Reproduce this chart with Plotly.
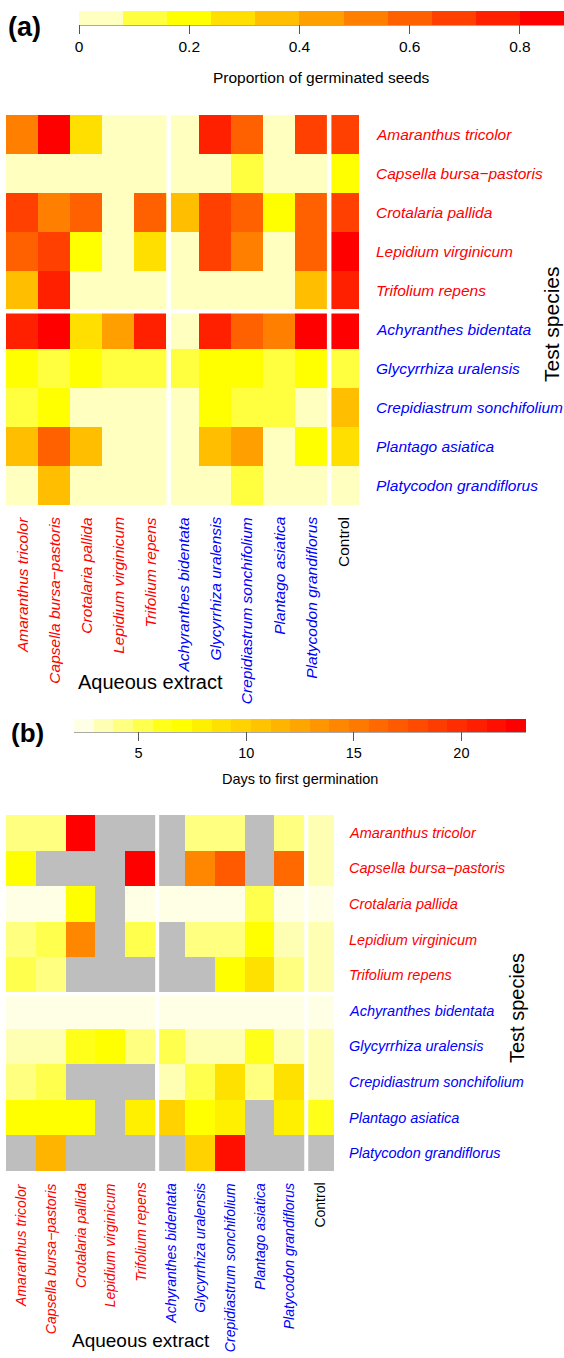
import plotly.graph_objects as go

W, H = 564, 1358

# ---------------- data ----------------
species = ["Amaranthus tricolor", "Capsella bursa\u2212pastoris", "Crotalaria pallida",
           "Lepidium virginicum", "Trifolium repens", "Achyranthes bidentata",
           "Glycyrrhiza uralensis", "Crepidiastrum sonchifolium", "Plantago asiatica",
           "Platycodon grandiflorus"]
extracts = species + ["Control"]

# (a) proportion of germinated seeds: rows = test species, cols = aqueous extract
prop = [
    [0.52, 0.84, 0.28, 0.00, 0.00, 0.00, 0.76, 0.60, 0.00, 0.68, 0.68],
    [0.00, 0.00, 0.00, 0.00, 0.00, 0.00, 0.00, 0.12, 0.00, 0.00, 0.20],
    [0.68, 0.52, 0.60, 0.00, 0.60, 0.36, 0.68, 0.60, 0.20, 0.60, 0.68],
    [0.60, 0.68, 0.20, 0.00, 0.28, 0.00, 0.68, 0.52, 0.00, 0.60, 0.84],
    [0.36, 0.76, 0.00, 0.00, 0.00, 0.00, 0.00, 0.00, 0.00, 0.36, 0.76],
    [0.76, 0.84, 0.28, 0.44, 0.76, 0.00, 0.76, 0.60, 0.52, 0.84, 0.84],
    [0.20, 0.12, 0.20, 0.12, 0.12, 0.12, 0.20, 0.20, 0.12, 0.20, 0.12],
    [0.12, 0.20, 0.00, 0.00, 0.00, 0.00, 0.20, 0.12, 0.12, 0.00, 0.36],
    [0.36, 0.60, 0.36, 0.00, 0.00, 0.00, 0.36, 0.44, 0.00, 0.20, 0.28],
    [0.00, 0.36, 0.00, 0.00, 0.00, 0.00, 0.00, 0.12, 0.00, 0.00, 0.00],
]

# (b) days to first germination (None = no germination, grey)
N = None
days = [
    [4.0, 4.0, 23.0, N, N, N, 4.0, 4.0, N, 4.0, 3.0],
    [7.0, N, N, N, 23.0, N, 14.2, 17.0, N, 16.5, 3.0],
    [2.3, 2.3, 7.0, N, 2.3, 2.3, 2.3, 2.3, 5.0, 2.3, 2.3],
    [4.0, 5.0, 14.2, N, 5.0, N, 4.0, 4.0, 7.0, 3.0, 3.0],
    [5.0, 4.0, N, N, N, N, N, 7.0, 9.0, 4.0, 3.0],
    [2.3, 2.3, 2.3, 2.3, 2.3, 2.3, 2.3, 2.3, 2.3, 2.3, 2.3],
    [3.4, 3.4, 6.0, 7.0, 4.0, 5.0, 3.0, 3.0, 6.0, 3.0, 3.0],
    [4.0, 5.0, N, N, N, 3.0, 5.0, 9.0, 4.0, 9.0, 3.0],
    [7.0, 7.0, 7.0, N, 8.0, 10.0, 7.0, 8.0, N, 8.0, 6.0],
    [N, 12.0, N, N, N, N, 10.0, 21.6, N, N, N],
]

prop_ticks = [0, 0.2, 0.4, 0.6, 0.8]
prop_ticktext = ["0", "0.2", "0.4", "0.6", "0.8"]
days_ticks = [5, 10, 15, 20]
days_ticktext = ["5", "10", "15", "20"]

# ---------------- styles ----------------
heat_a = ["#FFFFBF", "#FFFF40", "#FFFF00", "#FFDF00", "#FFBF00", "#FF9F00",
          "#FF8000", "#FF6000", "#FF4000", "#FF2000", "#FF0000"]
heat_b = ["#FFFFE6", "#FFFFB3", "#FFFF80", "#FFFF4D", "#FFFF1A", "#FFFF00",
          "#FFF000", "#FFE100", "#FFD200", "#FFC300", "#FFB400", "#FFA500",
          "#FF9600", "#FF8700", "#FF7800", "#FF6900", "#FF5A00", "#FF4B00",
          "#FF3C00", "#FF2D00", "#FF1E00", "#FF0F00", "#FF0000"]
NA_GREY = "#BEBEBE"
RED, BLUE = "#FF0000", "#0000FF"
FONT = "Liberation Sans, Arial, sans-serif"


def stepscale(colors):
    n = len(colors)
    cs = []
    for k, c in enumerate(colors):
        cs.append([k / n, c])
        cs.append([(k + 1) / n, c])
    return cs


def px(x):
    return x / W


def py(y):
    return 1 - y / H


nrow, ncol = len(species), len(extracts)
rows_idx = list(range(nrow))
cols_idx = list(range(ncol))

# panel geometry (pixels)
A = dict(x0=6, x1=359, y0=115, y1=505)
B = dict(x0=6, x1=334, y0=815, y1=1171)

fig = go.Figure()

fig.add_trace(go.Heatmap(z=prop, x=cols_idx, y=rows_idx, coloraxis="coloraxis",
                         xaxis="x", yaxis="y", xgap=0, ygap=0))
na_mask = [[1 if v is None else None for v in row] for row in days]
fig.add_trace(go.Heatmap(z=na_mask, x=cols_idx, y=rows_idx, showscale=False,
                         colorscale=[[0, NA_GREY], [1, NA_GREY]],
                         xaxis="x2", yaxis="y2", hoverinfo="skip"))
fig.add_trace(go.Heatmap(z=days, x=cols_idx, y=rows_idx, coloraxis="coloraxis2",
                         xaxis="x2", yaxis="y2"))

axis_common = dict(showgrid=False, zeroline=False, showticklabels=False, ticks="",
                   showline=False, fixedrange=True)

fig.update_layout(
    width=W, height=H,
    margin=dict(l=0, r=0, t=0, b=0, pad=0, autoexpand=False),
    paper_bgcolor="white", plot_bgcolor="white",
    font=dict(family=FONT, color="black"),
    showlegend=False,
    xaxis=dict(domain=[px(A["x0"]), px(A["x1"])], range=[-0.5, ncol - 0.5], anchor="y", **axis_common),
    yaxis=dict(domain=[py(A["y1"]), py(A["y0"])], range=[nrow - 0.5, -0.5], anchor="x", **axis_common),
    xaxis2=dict(domain=[px(B["x0"]), px(B["x1"])], range=[-0.5, ncol - 0.5], anchor="y2", **axis_common),
    yaxis2=dict(domain=[py(B["y1"]), py(B["y0"])], range=[nrow - 0.5, -0.5], anchor="x2", **axis_common),
    coloraxis=dict(
        cmin=0, cmax=0.88, colorscale=stepscale(heat_a),
        colorbar=dict(orientation="h", x=px((79 + 564) / 2), xanchor="center",
                      y=py(11), yanchor="top", len=485, lenmode="pixels",
                      thickness=14, thicknessmode="pixels", outlinewidth=0,
                      xpad=0, ypad=0,
                      tickvals=prop_ticks, ticktext=prop_ticktext,
                      ticks="outside", ticklen=9, tickcolor="#555", tickwidth=1,
                      tickfont=dict(size=15.5, family=FONT, color="black"))),
    coloraxis2=dict(
        cmin=2, cmax=23, colorscale=stepscale(heat_b),
        colorbar=dict(orientation="h", x=px((74 + 526) / 2), xanchor="center",
                      y=py(719), yanchor="top", len=452, lenmode="pixels",
                      thickness=13, thicknessmode="pixels", outlinewidth=0,
                      xpad=0, ypad=0,
                      tickvals=days_ticks, ticktext=days_ticktext,
                      ticks="outside", ticklen=9, tickcolor="#555", tickwidth=1,
                      tickfont=dict(size=14.5, family=FONT, color="black"))),
)

shapes = []
# colourbar base lines
shapes.append(dict(type="line", xref="paper", yref="paper", x0=px(79), x1=px(564),
                   y0=py(25), y1=py(25), line=dict(color="#555", width=1)))
shapes.append(dict(type="line", xref="paper", yref="paper", x0=px(74), x1=px(526),
                   y0=py(732), y1=py(732), line=dict(color="#555", width=1)))
# white separators
for xr, yr, lw in (("x", "y", 4.5), ("x2", "y2", 4)):
    for xv in (4.57, 9.57):
        shapes.append(dict(type="line", xref=xr, yref=yr, x0=xv, x1=xv, y0=-0.5, y1=nrow - 0.5,
                           line=dict(color="white", width=lw)))
    shapes.append(dict(type="line", xref=xr, yref=yr, x0=-0.5, x1=ncol - 0.5, y0=4.53, y1=4.53,
                       line=dict(color="white", width=lw)))

annotations = []


def ann(**kw):
    base = dict(showarrow=False, font=dict(family=FONT, size=14, color="black"))
    base.update(kw)
    annotations.append(base)


for panel, yr, xr, lab_x, col_top, fs, cfs in (("a", "y", "x", 374, 515, 15.5, 15.5),
                                               ("b", "y2", "x2", 347, 1181, 14.5, 14)):
    for i, name in enumerate(species):
        c = RED if i < 5 else BLUE
        ann(text="<i>" + name + "</i>", xref="paper", x=px(lab_x), xanchor="left",
            yref=yr, y=i, yanchor="middle", font=dict(family=FONT, size=fs, color=c))
    for j, name in enumerate(extracts):
        if j < 10:
            c = RED if j < 5 else BLUE
            t = "<i>" + name + "</i>"
        else:
            c = "black"
            t = name
        ann(text=t, xref=xr, x=j, xanchor="center", yref="paper", y=py(col_top),
            yanchor="top", textangle=-90, font=dict(family=FONT, size=cfs, color=c))

ann(text="Test species", xref="paper", x=px(551), xanchor="center", yref="paper", y=py(324),
    yanchor="middle", textangle=-90, font=dict(family=FONT, size=21, color="black"))
ann(text="Test species", xref="paper", x=px(517), xanchor="center", yref="paper", y=py(1008),
    yanchor="middle", textangle=-90, font=dict(family=FONT, size=20, color="black"))
ann(text="Aqueous extract", xref="paper", x=px(76), xanchor="left", yref="paper", y=py(682),
    yanchor="middle", font=dict(family=FONT, size=20, color="black"))
ann(text="Aqueous extract", xref="paper", x=px(70), xanchor="left", yref="paper", y=py(1340),
    yanchor="middle", font=dict(family=FONT, size=19, color="black"))
ann(text="<b>(a)</b>", xref="paper", x=px(6), xanchor="left", yref="paper", y=py(27),
    yanchor="middle", font=dict(family=FONT, size=27, color="black"))
ann(text="<b>(b)</b>", xref="paper", x=px(9), xanchor="left", yref="paper", y=py(733),
    yanchor="middle", font=dict(family=FONT, size=26, color="black"))
ann(text="Proportion of germinated seeds", xref="paper", x=px(321.5), xanchor="center",
    yref="paper", y=py(77), yanchor="middle", font=dict(family=FONT, size=15.5, color="black"))
ann(text="Days to first germination", xref="paper", x=px(300), xanchor="center",
    yref="paper", y=py(779), yanchor="middle", font=dict(family=FONT, size=14.5, color="black"))

fig.update_layout(shapes=shapes, annotations=annotations)
fig.write_html("out.html",
               config={"displayModeBar": False, "staticPlot": True},
               post_script="document.body.style.margin='0';document.body.style.padding='0';"
                           "document.documentElement.style.overflow='hidden';")
